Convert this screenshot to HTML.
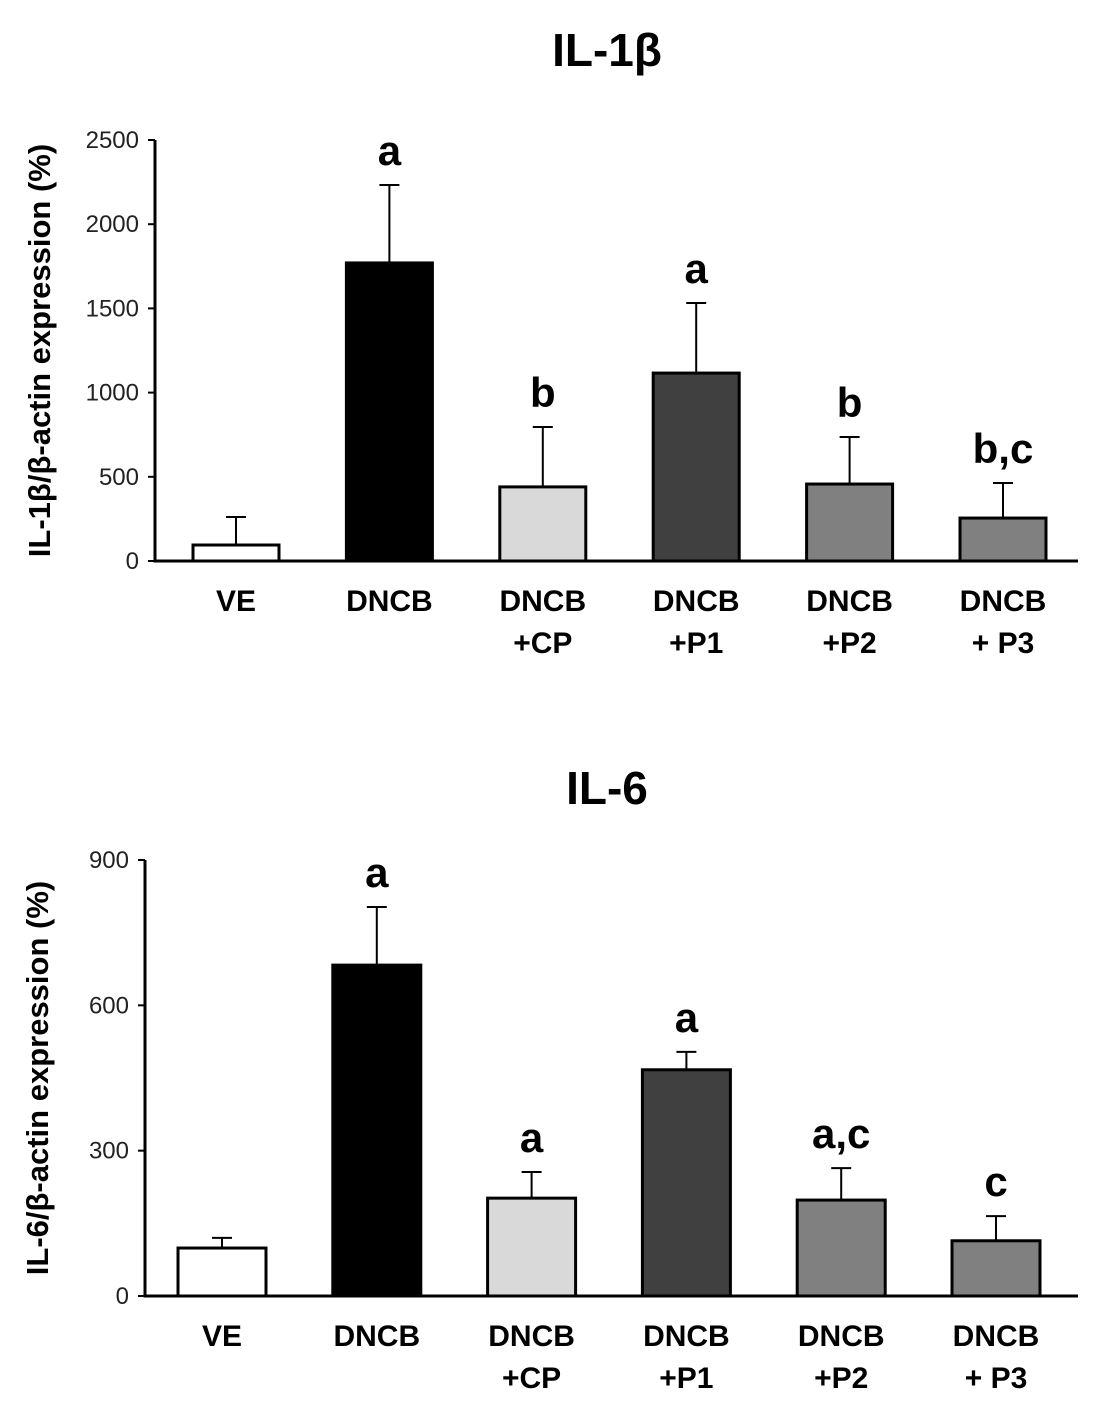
<!DOCTYPE html>
<html><head><meta charset="utf-8">
<style>
html,body{margin:0;padding:0;background:#fff;}
svg{display:block;font-family:"Liberation Sans",Arial,sans-serif;}
</style></head>
<body>
<svg id="chart" width="1113" height="1417" viewBox="0 0 1113 1417" xmlns="http://www.w3.org/2000/svg"></svg>
<script>
const categories = ["VE","DNCB","DNCB\n+CP","DNCB\n+P1","DNCB\n+P2","DNCB\n+ P3"];
const il1Values = [95, 1770, 440, 1116, 457, 255];
const il1Errors = [166, 463, 356, 416, 279, 208];
const il1Letters = ["", "a", "b", "a", "b", "b,c"];
const il1Ticks = [0, 500, 1000, 1500, 2000, 2500];
const il6Values = [99, 683, 202, 467, 198, 114];
const il6Errors = [21, 120, 54, 37, 66, 51];
const il6Letters = ["", "a", "a", "a", "a,c", "c"];
const il6Ticks = [0, 300, 600, 900];
const fills = ["#ffffff","#000000","#d9d9d9","#404040","#808080","#808080"];

const svg = document.getElementById('chart');
const NS = "http://www.w3.org/2000/svg";
function mk(tag, attrs, parent){
  const e = document.createElementNS(NS, tag);
  for (const k in attrs) e.setAttribute(k, attrs[k]);
  (parent||svg).appendChild(e);
  return e;
}

function drawPanel(p){
  const g = mk('g', {});
  
  
  const y = v => p.y0 - (v - 0) / p.max * (p.y0 - p.yTop);
  const x = i => p.x0c + i * p.step;

  const t = mk('text', {x: p.titleX, y: p.titleY, 'font-size': 46, 'font-weight': 'bold', 'text-anchor': 'middle', fill: '#000'}, g);
  t.textContent = p.title;
  
  

  const yt = mk('text', {transform: `translate(${p.ytX},${(p.yTop + p.y0)/2}) rotate(-90)`, 'font-size': 31, 'font-weight': 'bold', 'text-anchor': 'middle', fill: '#000'}, g);
  yt.textContent = p.ytitle;
  
  

  p.values.forEach((v, i) => {
    const cx = x(i);
    const top = y(v), etop = y(v + p.errors[i]);
    const el = mk('line', {x1: cx, x2: cx, y1: top, y2: etop, stroke: '#000', 'stroke-width': 2}, g);
    
    
    const cap = mk('line', {x1: cx - 10, x2: cx + 10, y1: etop, y2: etop, stroke: '#000', 'stroke-width': 2}, g);
    
    
    const r = mk('rect', {x: cx - p.bw/2, y: top, width: p.bw, height: p.y0 - top, fill: fills[i], stroke: '#000', 'stroke-width': 3}, g);
    
    
    if (p.letters[i]) {
      const lt = mk('text', {x: cx, y: etop - 20, 'font-size': 42, 'font-weight': 'bold', 'text-anchor': 'middle', fill: '#000'}, g);
      lt.textContent = p.letters[i];
      
      
    }
    const lines = categories[i].split('\n');
    lines.forEach((ln, j) => {
      const c = mk('text', {x: cx, y: p.y0 + 50 + j * 42, 'font-size': 30, 'font-weight': 'bold', 'text-anchor': 'middle', fill: '#000'}, g);
      c.textContent = ln;
      
      
    });
  });

  const ya = mk('line', {x1: p.ax, x2: p.ax, y1: p.yTop, y2: p.y0 + 1.5, stroke: '#000', 'stroke-width': 3}, g);
  
  
  const xa = mk('line', {x1: p.ax, x2: p.xEnd, y1: p.y0, y2: p.y0, stroke: '#000', 'stroke-width': 3}, g);
  
  
  p.ticks.forEach(tv => {
    const ty = y(tv);
    const tk = mk('line', {x1: p.ax - 7, x2: p.ax, y1: ty, y2: ty, stroke: '#000', 'stroke-width': 2}, g);
    
    
    const tl = mk('text', {x: p.ax - 16, y: ty + 8, 'font-size': 24, 'text-anchor': 'end', fill: '#222'}, g);
    tl.textContent = tv;
    
    
  });
}

drawPanel({id:'il1b', title:'IL-1β', titleX:607, titleY:66, ytitle:'IL-1β/β-actin expression (%)', ytX:50,
  values:il1Values, errors:il1Errors, letters:il1Letters, ticks:il1Ticks, max:2500,
  y0:561, yTop:140, ax:155, xEnd:1078, x0c:236, step:153.4, bw:86});
drawPanel({id:'il6', title:'IL-6', titleX:607, titleY:804, ytitle:'IL-6/β-actin expression (%)', ytX:48,
  values:il6Values, errors:il6Errors, letters:il6Letters, ticks:il6Ticks, max:900,
  y0:1296, yTop:860, ax:145, xEnd:1078, x0c:222, step:154.8, bw:88});
</script>
</body></html>
